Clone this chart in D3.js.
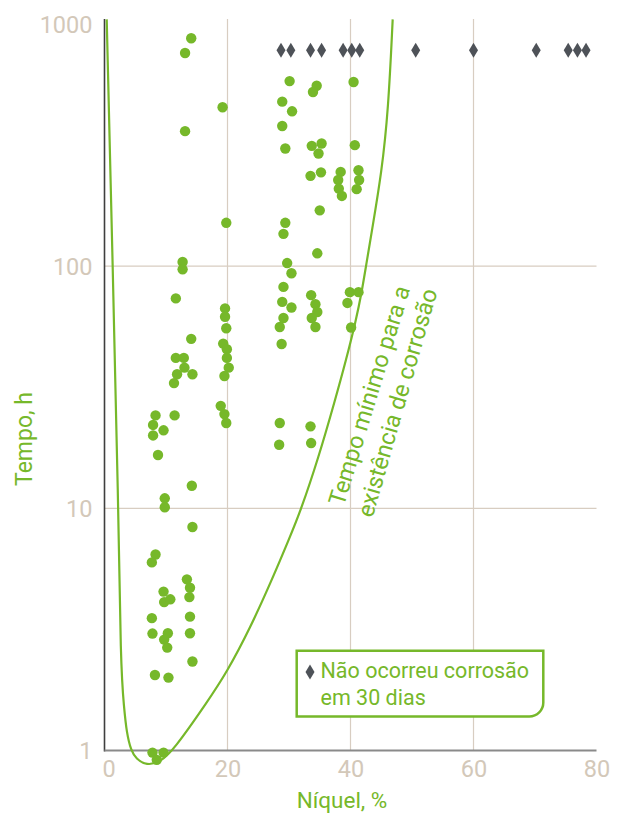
<!DOCTYPE html>
<html>
<head>
<meta charset="utf-8">
<script src="https://cdn.jsdelivr.net/npm/d3@7"></script>
<style>
  body { margin: 0; background: #fff; }
  text { font-family: Roboto, "Open Sans", sans-serif; }
</style>
</head>
<body>
<div id="chart"></div>
<script>
//DATA
const nickelTicks = [0, 20, 40, 60, 80];
const hourTicks = [1, 10, 100, 1000];
const gridNickel = [20, 40, 60];
const gridHours = [10, 100];

//corrosion observed (green dots)
const dotNickel = [14.1, 13.1, 13.1, 12.7, 12.7, 11.6, 14.1, 11.6, 12.9, 13.0, 11.8, 14.3, 11.3, 8.3, 11.4, 7.9, 9.6, 7.9, 8.7, 14.2,
  9.8, 9.8, 14.3, 8.3, 7.7, 13.4, 13.9, 13.8, 9.6, 9.7, 10.7, 7.7, 13.9, 7.8, 10.3, 9.7, 13.9, 10.2, 14.3, 8.2, 10.4, 7.8, 9.6, 8.5,
  19.2, 19.8, 19.6, 19.6, 19.8, 19.3, 19.9, 19.9, 20.2, 19.5, 18.9, 19.5, 19.8,
  30.1, 28.9, 30.5, 28.9, 29.4, 29.4, 29.1, 29.7, 30.4, 29.1, 28.9, 30.4, 29.1, 28.5, 28.8, 28.5, 28.4,
  34.5, 33.9, 33.7, 35.3, 34.8, 33.5, 35.2, 35.0, 34.6, 33.6, 34.3, 34.6, 33.7, 34.3, 33.5, 33.6,
  40.5, 40.7, 38.4, 38.0, 38.1, 38.6, 41.3, 41.4, 41.0, 39.9, 41.3, 39.5, 40.1];
const dotHours = [873, 759, 361, 104, 97, 73.6, 50.1, 41.8, 41.8, 38.1, 35.8, 35.8, 32.9, 24.2, 24.2, 22.1, 21.0, 20.0, 16.6, 12.4,
  11.0, 10.1, 8.37, 6.45, 5.98, 5.09, 4.70, 4.30, 4.53, 4.10, 4.21, 3.52, 3.57, 3.04, 3.05, 2.87, 3.05, 2.66, 2.33, 2.05, 2.00, 0.98, 0.98, 0.915,
  453, 151, 66.9, 61.8, 55.4, 47.9, 45.4, 41.8, 38.1, 35.2, 26.5, 24.5, 22.5,
  581, 478, 436, 379, 306, 151, 136, 103, 93.5, 82.1, 71.2, 67.5, 61.1, 56.1, 47.7, 22.5, 18.3,
  556, 524, 314, 321, 292, 236, 244, 170, 113, 75.9, 69.7, 64.7, 61.1, 56.1, 21.8, 18.6,
  576, 316, 245, 227, 209, 195, 249, 227, 208, 78.1, 78.1, 70.5, 55.8];

//no corrosion in 30 days (diamonds)
const noCorrosionNickel = [28.7, 30.3, 33.5, 35.3, 38.8, 40.2, 41.5, 50.6, 60.0, 70.2, 75.4, 76.9, 78.3];
const noCorrosionHours = 780;

//minimum time curve
const curveNickel = [0.36, 1.33, 2.24, 2.63, 3.17, 3.61, 4.31, 5.12, 6.86, 9.02, 11.19, 16.88, 19.87, 23.66, 27.4,
  29.92, 31.87, 34.8, 37.48, 39.27, 40.89, 41.79, 42.52, 43.58, 45.04, 46.15, 46.86];
const curveHours = [1045, 100, 10.8, 2.21, 1.51, 1.18, 1.0, 0.924, 0.867, 0.895, 1.0, 1.61, 2.10, 3.19, 5.19,
  7.38, 9.72, 16.2, 27.9, 40.9, 59.8, 77.3, 100, 145, 242, 441, 1045];

//Colors
const GREEN = "#76b82a",
  TAN = "#d3c8b9",
  GRID = "#d8cdc1",
  DARK = "#4e5258";

//Create SVG
const WIDTH = 618, HEIGHT = 814;
const svg = d3.select("#chart").append("svg")
  .attr("width", WIDTH)
  .attr("height", HEIGHT);

//Scales
const x = d3.scaleLinear().domain([0, 80]).range([104.5, 596.5]);
const y = d3.scaleLog().domain([1, 1000]).range([750.5, 24]);
const yTop = y(1000) - 5;

//Gridlines
svg.append("g").selectAll("line").data(gridNickel).join("line")
  .attr("x1", d => x(d)).attr("x2", d => x(d))
  .attr("y1", yTop).attr("y2", y(1))
  .attr("stroke", GRID).attr("stroke-width", 1.2);
svg.append("g").selectAll("line").data(gridHours).join("line")
  .attr("x1", x(0)).attr("x2", x(80))
  .attr("y1", d => y(d)).attr("y2", d => y(d))
  .attr("stroke", GRID).attr("stroke-width", 1.2);

//Y-AXIS
const yAxis = svg.append("g")
  .attr("transform", `translate(${x(0)},0)`)
  .call(d3.axisLeft(y).tickValues(hourTicks).tickFormat(d3.format("d")).tickSize(0).tickPadding(12));
yAxis.select(".domain").remove();
yAxis.selectAll("text").attr("fill", TAN).style("font-size", "23.5px").attr("dy", "0.36em");
svg.append("line")
  .attr("x1", x(0)).attr("x2", x(0)).attr("y1", yTop).attr("y2", y(1) + 1)
  .attr("stroke", "#3f3f3f").attr("stroke-width", 1.6);

//X-AXIS
const xAxis = svg.append("g")
  .attr("transform", `translate(0,${y(1)})`)
  .call(d3.axisBottom(x).tickValues(nickelTicks).tickSize(0).tickPadding(10));
xAxis.select(".domain").remove();
xAxis.selectAll("text").attr("fill", TAN).style("font-size", "23.5px")
  .attr("dx", d => (d === 0 ? 4 : 0));
svg.append("line")
  .attr("x1", x(0)).attr("x2", x(80)).attr("y1", y(1)).attr("y2", y(1))
  .attr("stroke", "#8a8a8a").attr("stroke-width", 2);

//Axis titles
svg.append("text")
  .attr("transform", `translate(32,439) rotate(-90)`)
  .attr("text-anchor", "middle")
  .attr("fill", GREEN).style("font-size", "23px")
  .text("Tempo, h");
svg.append("text")
  .attr("x", 342).attr("y", 808)
  .attr("text-anchor", "middle")
  .attr("fill", GREEN).style("font-size", "22.5px")
  .text("Níquel, %");

//Curve (smoothed through the read points)
const curvePoints = curveNickel.map((d, i) => [d, curveHours[i]]);
svg.append("path")
  .datum(curvePoints)
  .attr("d", d3.line().x(d => x(d[0])).y(d => y(d[1])).curve(d3.curveBasis))
  .attr("fill", "none")
  .attr("stroke", GREEN)
  .attr("stroke-width", 2.2);

//Dots
svg.append("g").selectAll("circle")
  .data(dotNickel.map((d, i) => [d, dotHours[i]]))
  .join("circle")
  .attr("cx", d => x(d[0]))
  .attr("cy", d => y(d[1]))
  .attr("r", 5.2)
  .attr("fill", GREEN);

//Diamonds
const diamond = "M0,-7.5L4.5,0L0,7.5L-4.5,0Z";
svg.append("g").selectAll("path")
  .data(noCorrosionNickel)
  .join("path")
  .attr("d", diamond)
  .attr("transform", d => `translate(${x(d)},${y(noCorrosionHours)})`)
  .attr("fill", DARK);

//Legend
const legend = svg.append("g");
legend.append("path")
  .attr("d", "M296.7,650.7H543.3V702.5A14,14 0 0 1 529.3,716.5H296.7Z")
  .attr("fill", "#fff")
  .attr("stroke", GREEN)
  .attr("stroke-width", 2.5);
legend.append("path")
  .attr("d", diamond)
  .attr("transform", "translate(310,672)")
  .attr("fill", DARK);
legend.selectAll("text")
  .data(["Não ocorreu corrosão", "em 30 dias"])
  .join("text")
  .attr("x", 320.5)
  .attr("y", (d, i) => 678 + i * 27)
  .attr("fill", GREEN)
  .style("font-size", "21.5px")
  .text(d => d);

//Curve label
const note = svg.append("g");
note.append("text")
  .attr("transform", "translate(377,398) rotate(-73)")
  .attr("text-anchor", "middle")
  .attr("fill", GREEN).style("font-size", "23.5px")
  .text("Tempo mínimo para a");
note.append("text")
  .attr("transform", "translate(405,405) rotate(-74)")
  .attr("text-anchor", "middle")
  .attr("fill", GREEN).style("font-size", "23.5px")
  .text("existência de corrosão");
</script>
</body>
</html>
